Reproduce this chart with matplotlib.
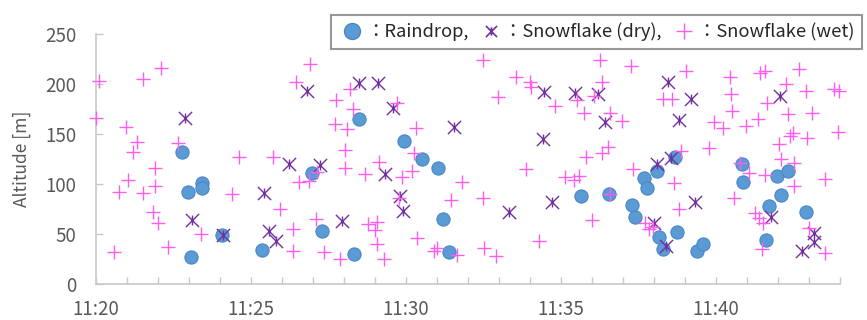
import matplotlib
matplotlib.use("Agg")
import matplotlib.pyplot as plt
from matplotlib.path import Path
from matplotlib.lines import Line2D

plt.rcParams['font.family'] = ['Noto Sans CJK JP', 'DejaVu Sans']

# minutes after 11:20, altitude [m]
rain_t = [2.76, 2.96, 3.41, 3.41, 3.07, 4.07, 5.34, 6.96, 7.28, 8.48, 8.32, 9.94, 10.51,
          11.02, 11.18, 11.40, 15.65, 16.55, 17.30, 17.39, 17.68, 17.76, 18.11, 18.68,
          18.17, 18.28, 18.73, 19.38, 19.57, 20.83, 20.88, 21.61, 21.72, 21.96, 22.10,
          22.31, 22.89]
rain_alt = [132, 92, 101, 96, 27, 49, 34, 111, 53, 165, 30, 143, 125,
            116, 65, 32, 88, 90, 79, 67, 106, 96, 113, 127,
            47, 35, 52, 33, 40, 120, 102, 44, 78, 108, 89,
            113, 72]

dry_t = [2.87, 3.09, 4.11, 5.43, 5.58, 5.82, 6.23, 6.80, 7.24, 7.95, 8.48, 9.11, 9.59,
         9.31, 9.81, 9.91, 11.56, 13.32, 14.46, 14.43, 14.72, 15.45, 16.20, 16.42,
         18.46, 19.19, 18.82, 18.11, 18.54, 19.32, 18.01, 18.39, 22.06, 21.76, 23.17,
         23.17, 22.76]
dry_alt = [166, 64, 49, 91, 53, 43, 120, 193, 119, 63, 201, 201, 176,
           110, 88, 73, 157, 72, 192, 145, 82, 191, 190, 162,
           202, 185, 164, 120, 126, 82, 61, 38, 188, 67, 51,
           42, 33]

wet_t = [0.11, 0.0, 1.53, 2.09, 0.97, 1.31, 1.18, 2.66, 4.60, 1.90, 1.02, 1.91, 0.74,
         1.51, 4.39, 1.84, 2.00, 3.38, 2.33, 0.57,
         6.90, 6.45, 8.19, 7.73, 8.28, 7.71, 8.10, 5.72, 8.02, 8.04, 9.14, 8.67, 7.14,
         6.88, 6.56, 5.94, 7.11, 6.37, 8.79, 9.05, 9.00, 9.05, 6.37, 7.37, 7.87, 9.29,
         12.47, 13.54, 14.00, 14.03, 12.98, 9.72, 10.32, 10.26, 10.18, 9.87, 11.80, 13.86,
         11.45, 12.47, 9.78, 10.37, 14.30, 10.99, 10.91, 11.63, 12.53, 12.90,
         16.26, 17.25, 19.02, 16.31, 15.53, 16.06, 14.81, 15.75, 16.58, 16.98, 18.28,
         18.57, 16.53, 16.31, 15.81, 18.86, 17.33, 15.13, 15.42, 15.58, 18.65, 16.58,
         18.82, 16.01, 17.71, 17.85, 17.98,
         20.45, 21.42, 21.58, 22.69, 22.25, 20.48, 22.90, 23.81, 23.97, 21.66, 20.51,
         22.31, 23.11, 21.37, 19.94, 20.21, 20.97, 23.95, 22.39, 22.47, 22.95, 22.03,
         19.78, 22.09, 22.53, 20.77, 21.07, 21.58, 23.52, 22.53, 20.58, 21.26, 21.40,
         21.50, 23.01, 21.47, 23.52]
wet_alt = [203, 166, 205, 216, 157, 142, 132, 141, 127, 116, 104, 98, 92,
           91, 90, 72, 61, 50, 37, 32,
           220, 202, 195, 184, 175, 160, 155, 127, 134, 116, 122, 110, 112,
           103, 102, 75, 65, 55, 60, 62, 54, 40, 33, 32, 25, 25,
           224, 207, 202, 197, 187, 181, 156, 131, 113, 107, 102, 115,
           84, 86, 86, 46, 43, 36, 33, 29, 36, 28,
           224, 218, 213, 202, 184, 188, 178, 171, 171, 163, 185,
           185, 137, 131, 127, 133, 115, 107, 104, 108, 101, 90,
           75, 64, 61, 55, 57,
           207, 211, 213, 215, 200, 190, 193, 195, 193, 181, 173,
           170, 171, 165, 162, 156, 158, 152, 148, 151, 146, 140,
           136, 125, 121, 121, 111, 109, 105, 98, 86, 71, 66,
           61, 56, 35, 31]

x_tick_minutes = [0, 5, 10, 15, 20]
x_tick_labels = ['11:20', '11:25', '11:30', '11:35', '11:40']
y_ticks = [0, 50, 100, 150, 200, 250]
legend_labels = ['：Raindrop,', '：Snowflake (dry),', '：Snowflake (wet)']

RAIN = '#5B9BD5'
DRY = '#7030A0'
WET = '#FF5CF0'
AXC = '#C8C8C8'
TXT = '#595959'

ast = Path([(-1, -1), (1, 1), (-1, 1), (1, -1), (0, -0.75), (0, 0.75)],
           [Path.MOVETO, Path.LINETO, Path.MOVETO, Path.LINETO, Path.MOVETO, Path.LINETO])

fig = plt.figure(figsize=(8.67, 3.2), dpi=100)
ax = fig.add_axes([96/867, 36/320, 744/867, 250/320])

ax.plot(rain_t, rain_alt, linestyle='none', marker='o', markersize=9.5,
        markerfacecolor=RAIN, markeredgecolor='#4A86C4', markeredgewidth=0.8,
        clip_on=False, zorder=3)
ax.plot(dry_t, dry_alt, linestyle='none', marker=ast, markersize=9.5,
        markerfacecolor='none', markeredgecolor=DRY, markeredgewidth=1.0,
        clip_on=False, zorder=4)
ax.plot(wet_t, wet_alt, linestyle='none', marker='+', markersize=10,
        markeredgecolor=WET, markeredgewidth=1.0, clip_on=False, zorder=5)

ax.set_xlim(0, 24)
ax.set_ylim(0, 250)
ax.set_xticks(range(0, 25))
ax.set_xticklabels([x_tick_labels[x_tick_minutes.index(m)] if m in x_tick_minutes else ''
                    for m in range(0, 25)])
ax.set_yticks(y_ticks)
ax.set_yticklabels([str(v) for v in y_ticks])

for s in ['top', 'right']:
    ax.spines[s].set_visible(False)
for s in ['left', 'bottom']:
    ax.spines[s].set_color(AXC)
    ax.spines[s].set_linewidth(1.2)
ax.tick_params(axis='both', direction='in', length=5, width=1.0, color=AXC,
               labelcolor=TXT, labelsize=13.5)
ax.tick_params(axis='x', pad=11)
ax.tick_params(axis='y', pad=14)
ax.set_ylabel('Altitude [m]', fontsize=12.5, color=TXT, labelpad=10)

handles = [
    Line2D([], [], linestyle='none', marker='o', markersize=11.5, markerfacecolor=RAIN,
           markeredgecolor='#4A86C4'),
    Line2D([], [], linestyle='none', marker=ast, markersize=8, markerfacecolor='none',
           markeredgecolor=DRY, markeredgewidth=1.2),
    Line2D([], [], linestyle='none', marker='+', markersize=12, markeredgecolor=WET,
           markeredgewidth=1.0),
]
leg = ax.legend(handles, legend_labels, loc='upper left', ncol=3,
                bbox_to_anchor=(331/867, 1 - 15/320), bbox_transform=fig.transFigure,
                borderaxespad=0, frameon=True, fancybox=False, fontsize=13.2,
                handlelength=1.5, handletextpad=0.0, columnspacing=0.45,
                borderpad=0.42)
leg.get_frame().set_edgecolor('#7F7F7F')
leg.get_frame().set_linewidth(1.5)
leg.set_zorder(10)
for t in leg.get_texts():
    t.set_color('#262626')

fig.savefig('out.png', dpi=100)
